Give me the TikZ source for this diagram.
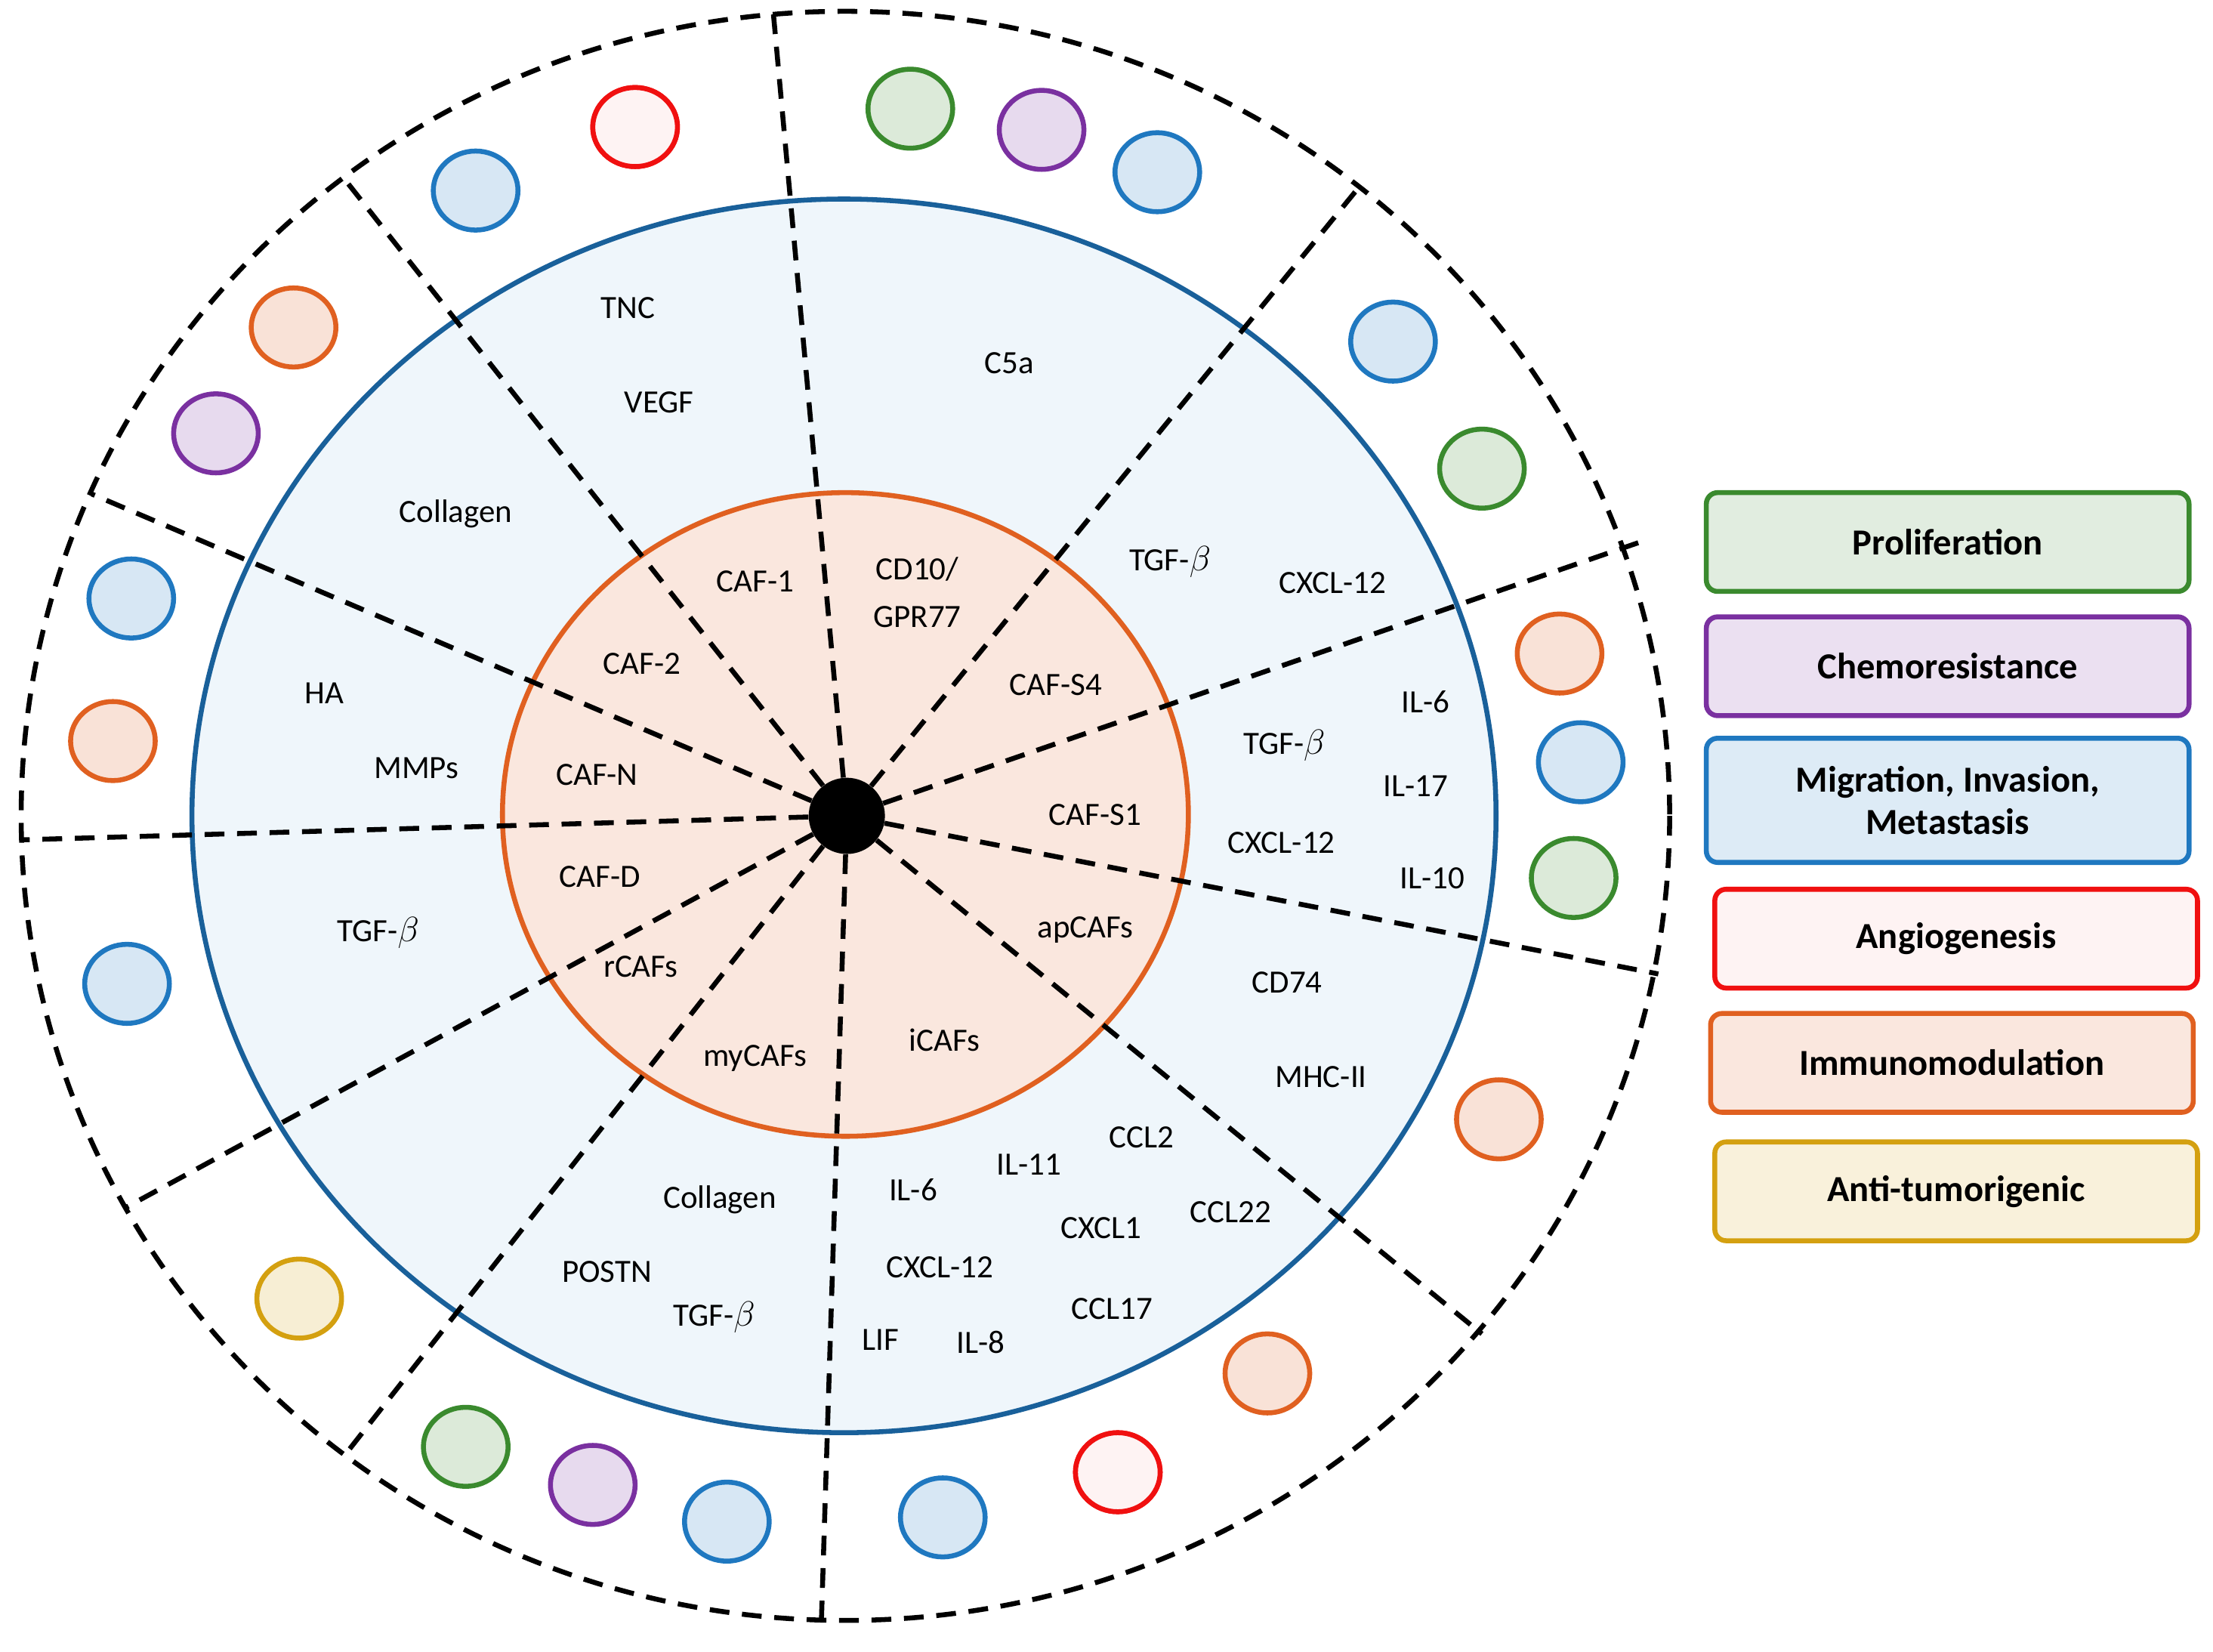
\documentclass[tikz,border=0pt]{standalone}
\usepackage{fontspec}
\usetikzlibrary{shapes.geometric}
\setmainfont{Carlito}
\begin{document}
\begin{tikzpicture}[x=1pt,y=-1pt,
 lab/.style={font=\fontsize{23}{25}\selectfont},
 dsh/.style={line width=3.5pt,dash pattern=on 14pt off 9pt},
 bub/.style={ellipse,minimum width=60pt,minimum height=56pt,line width=3.5pt,draw=#1,fill=#1!18},
 leg/.style={rounded corners=8pt,line width=3.5pt,draw=#1,fill=#1!15,minimum width=342pt,font=\fontsize{26}{30}\selectfont\bfseries,align=center,inner sep=3pt}]
\definecolor{cg}{HTML}{3A8A2E}\definecolor{cp}{HTML}{7A30A0}\definecolor{cb}{HTML}{1F78C0}
\definecolor{cr}{HTML}{F01010}\definecolor{co}{HTML}{E06020}\definecolor{cy}{HTML}{D4A010}
\useasboundingbox (0,0) rectangle (1568,1170);
\draw[dsh] (599,578) ellipse [x radius=584,y radius=570];
\draw[line width=3.5pt,draw=cb!80!black,fill=cb!7] (598,578) ellipse [x radius=462,y radius=437];
\draw[line width=3.5pt,draw=co,fill=co!15] (599,577) ellipse [x radius=243,y radius=228];
\node[circle,fill=black,minimum size=54pt,inner sep=0] (c) at (600,578) {};
\coordinate (a) at (548,10);
\coordinate (b) at (245,128);
\coordinate (d) at (65,350);
\coordinate (e) at (15,595);
\coordinate (f) at (90,855);
\coordinate (g) at (245,1030);
\coordinate (h) at (582,1148);
\coordinate (i) at (1050,945);
\coordinate (j) at (1175,690);
\coordinate (k) at (1168,382);
\coordinate (l) at (965,130);
\foreach \n in {a,b,d,e,f,g,h,i,j,k,l} \draw[dsh] (c) -- (\n);
\foreach \n/\x/\y/\c in {b1/450/90/cr,b2/337/135/cb,b3/208/232/co,b4/153/307/cp,b5/645/77/cg,b6/738/92/cp,b7/820/122/cb,b8/987/242/cb,b9/1050/332/cg,b10/1105/463/co,b11/1120/540/cb,b12/1115/622/cg,b13/1062/793/co,b14/93/424/cb,b15/80/525/co,b16/90/697/cb,b17/212/920/cy,b18/330/1025/cg,b19/420/1052/cp,b20/515/1078/cb,b21/668/1075/cb,b22/792/1043/cr,b23/898/973/co}
 \node[bub=\c] (\n) at (\x,\y) {};
\node[bub=cr,fill=cr!5] at (b1) {};
\node[bub=cr,fill=cr!5] at (b22) {};
\foreach \n/\x/\y/\t in {t1/445/218/TNC,t2/467/285/VEGF,t3/323/364/Collagen,t4/715/257/C5a,t5/829/398/TGF-$\beta$,t6/944/413/CXCL-12,t7/535/412/CAF-1,t8/650/403/{CD10/},t9/650/437/GPR77,t10/455/470/CAF-2,t11/748/485/CAF-S4,t12/230/491/HA,t13/295/544/MMPs,t14/423/549/CAF-N,t15/1010/497/IL-6,t16/910/528/TGF-$\beta$,t17/1003/557/IL-17,t18/776/577/CAF-S1,t19/908/597/CXCL-12,t20/1015/622/IL-10,t21/425/621/CAF-D,t22/268/661/TGF-$\beta$,t23/769/659/apCAFs,t24/454/685/rCAFs,t25/912/696/CD74,t26/669/737/iCAFs,t27/535/750/myCAFs,t28/936/763/MHC-II,t29/809/806/CCL2,t30/729/825/IL-11,t31/647/843/IL-6,t32/510/850/Collagen,t33/780/870/CXCL1,t34/872/859/CCL22,t35/430/901/POSTN,t36/666/898/CXCL-12,t37/506/933/TGF-$\beta$,t38/788/927/CCL17,t39/624/949/LIF,t40/695/951/IL-8}
 \node[lab] (\n) at (\x,\y) {\t};
\node[leg=cg,minimum height=70pt] (l1) at (1380,384) {Proliferation};
\node[leg=cp,minimum height=70pt] (l2) at (1380,472) {Chemoresistance};
\node[leg=cb,minimum height=88pt] (l3) at (1380,567) {Migration, Invasion,\\Metastasis};
\node[leg=cr,minimum height=70pt,fill=cr!5] (l4) at (1386,665) {Angiogenesis};
\node[leg=co,minimum height=70pt] (l5) at (1383,753) {Immunomodulation};
\node[leg=cy,minimum height=70pt] (l6) at (1386,844) {Anti-tumorigenic};
\end{tikzpicture}
\end{document}
